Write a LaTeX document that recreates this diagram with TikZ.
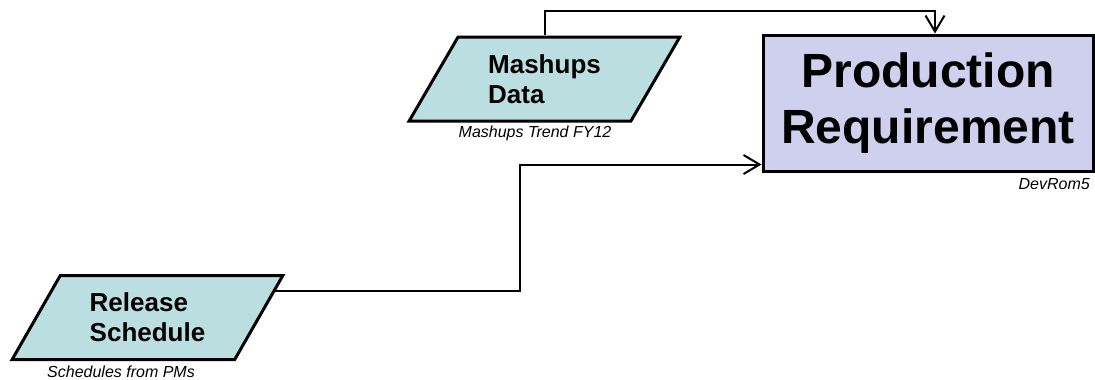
\documentclass[tikz,border=0pt]{standalone}
\usepackage{fontspec}
\setmainfont{Liberation Sans}
\usetikzlibrary{shapes.geometric,arrows.meta,calc}
\definecolor{datafill}{RGB}{187,222,224}
\definecolor{reqfill}{RGB}{207,208,238}

\begin{document}
\begin{tikzpicture}[x=1pt,y=-1pt,
        data/.style={draw, trapezium, trapezium left angle=57, trapezium right angle=123,
            trapezium stretches=true, minimum width=271, minimum height=84, inner sep=0pt,
            fill=datafill, line width=3pt, align=left,
            font=\fontsize{26}{30}\selectfont\bfseries},
        req/.style={draw, rectangle, minimum width=330, minimum height=136, inner sep=0pt,
            fill=reqfill, line width=3pt, align=center,
            font=\fontsize{48}{56}\selectfont\bfseries},
        caption/.style={font=\fontsize{16}{19}\selectfont\itshape, inner sep=0pt},
        link/.style={line width=2pt, -{Straight Barb[length=16pt,width=19pt]}}]
            \useasboundingbox (0,0) rectangle (1095,380);

            \node[data] (mashups) at (544.5, 79) {Mashups\\Data};
            \node[data] (release) at (147.5, 317.5) {Release\\Schedule};
            \node[req] (prod) at (928, 103) {Production\\Requirement};

            \node[caption, anchor=base] (mashupscap) at (535, 137) {Mashups Trend FY12};
            \node[caption, anchor=base east] (prodcap) at (1090, 189) {DevRom5};
            \node[caption, anchor=base] (releasecap) at (121, 377) {Schedules from PMs};

            \coordinate (relout) at ($(release.top right corner)!0.2!(release.bottom right corner)$);

            \draw[link] (mashups.north) -- ++(0,-24) -| ([xshift=7pt]prod.north);
            \draw[link] (relout) -- ++(245,0) |- ([yshift=8pt]prod.south west);
        \end{tikzpicture}
\end{document}
